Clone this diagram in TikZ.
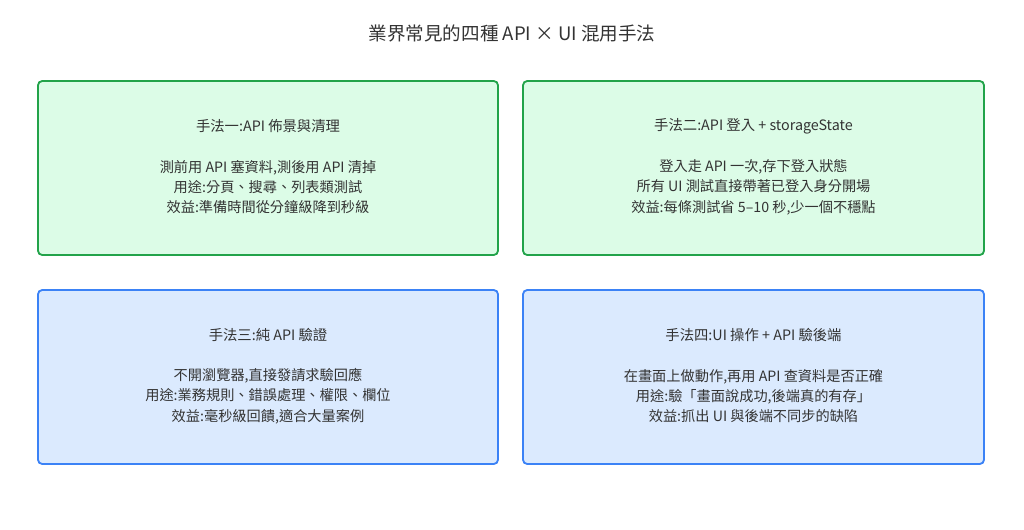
\documentclass[tikz,border=0pt]{standalone}
\usepackage{fontspec}
\setmainfont{Noto Sans CJK TC}
\definecolor{greenfill}{HTML}{DCFCE7}
\definecolor{greenline}{HTML}{22A34A}
\definecolor{bluefill}{HTML}{DBEAFE}
\definecolor{blueline}{HTML}{3B82F6}
\definecolor{txt}{HTML}{333333}
\tikzset{
  card/.style={draw, line width=1.3pt, rounded corners=3pt},
  gcard/.style={card, draw=greenline, fill=greenfill},
  bcard/.style={card, draw=blueline, fill=bluefill},
  head/.style={text=txt, font=\fontsize{10.2}{12}\selectfont},
  body/.style={text=txt, align=center, font=\fontsize{10.1}{14.5}\selectfont}
}
\begin{document}
\begin{tikzpicture}[x=0.025cm,y=-0.025cm]
\useasboundingbox (0,0) rectangle (1024,529);
\node[text=txt, font=\fontsize{13.2}{15}\selectfont] (title) at (512,33) {業界常見的四種 API × UI 混用手法};
% top row
\draw[gcard] (38,81) rectangle (498,255);
\node[head] (h1) at (268,126) {手法一:API 佈景與清理};
\node[body] (b1) at (268,187) {測前用 API 塞資料,測後用 API 清掉\\用途:分頁、搜尋、列表類測試\\效益:準備時間從分鐘級降到秒級};
\draw[gcard] (523,81) rectangle (984,255);
\node[head] (h2) at (753.5,126) {手法二:API 登入 + storageState};
\node[body] (b2) at (753.5,187) {登入走 API 一次,存下登入狀態\\所有 UI 測試直接帶著已登入身分開場\\效益:每條測試省 5–10 秒,少一個不穩點};
% bottom row
\draw[bcard] (38,290) rectangle (498,464);
\node[head] (h3) at (268,335) {手法三:純 API 驗證};
\node[body] (b3) at (268,396) {不開瀏覽器,直接發請求驗回應\\用途:業務規則、錯誤處理、權限、欄位\\效益:毫秒級回饋,適合大量案例};
\draw[bcard] (523,290) rectangle (984,464);
\node[head] (h4) at (753.5,335) {手法四:UI 操作 + API 驗後端};
\node[body] (b4) at (753.5,396) {在畫面上做動作,再用 API 查資料是否正確\\用途:驗「畫面說成功,後端真的有存」\\效益:抓出 UI 與後端不同步的缺陷};
\end{tikzpicture}
\end{document}
